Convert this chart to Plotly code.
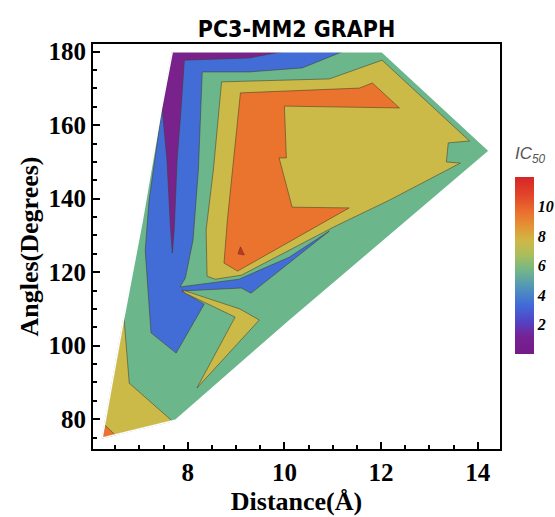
import plotly.graph_objects as go

# IC50 contour bands over distance (Å) / angle (degrees)
levels = [2, 4, 6, 8, 10]
ic50_min, ic50_max = 0.0, 12.0

# convex hull of the sampled region (IC50 4-6 band fills the rest)
hull_x = [7.68, 12.02, 14.24, 10.10, 7.76, 6.23, 6.68, 7.06, 7.45]
hull_y = [180.0, 180.0, 153.0, 106.7, 79.8, 74.9, 107.8, 134.2, 164.1]

# IC50 < 4
blue_x = [7.68, 11.20, 10.37, 9.27, 8.30, 8.22, 8.11, 7.95, 7.84, 9.06, 10.10, 10.93,
          9.31, 9.11, 7.88, 8.34, 7.76, 7.24, 7.12, 7.20, 7.47]
blue_y = [180.0, 180.0, 175.6, 174.5, 174.5, 147.8, 128.8, 118.4, 116.0, 118.1, 124.1, 131.2,
          114.3, 115.7, 114.9, 111.3, 98.0, 103.5, 126.0, 139.6, 164.7]

# IC50 < 2
purple_x = [7.68, 9.95, 9.27, 7.93, 7.86, 7.78, 7.72, 7.68, 7.64, 7.57, 7.47]
purple_y = [180.0, 180.0, 178.3, 177.7, 164.1, 150.5, 131.5, 125.2, 132.8, 150.5, 164.7]

# IC50 >= 6
yellow_x = [8.70, 10.93, 12.02, 13.83, 13.39, 13.35, 13.64, 12.17, 11.05, 10.14, 9.11,
            8.57, 8.40, 8.38, 8.53]
yellow_y = [171.8, 172.6, 177.7, 155.7, 155.2, 150.0, 149.7, 139.6, 132.5, 126.3, 119.2,
            118.1, 118.9, 131.5, 147.8]
yellow_low_x = [6.68, 6.79, 7.68, 6.23]
yellow_low_y = [107.8, 89.8, 79.5, 74.9]
yellow_spike_x = [7.88, 9.08, 9.48, 8.19, 8.98, 7.95]
yellow_spike_y = [115.2, 110.0, 107.0, 88.5, 107.8, 114.3]

# IC50 >= 8
orange_x = [9.09, 11.55, 11.82, 12.38, 10.00, 10.04, 9.89, 10.16, 11.34, 9.03, 8.75, 8.82]
orange_y = [168.8, 170.1, 171.5, 164.7, 165.2, 151.1, 151.1, 137.7, 137.5, 120.3, 122.5, 134.2]
orange_low_x = [6.23, 6.29, 6.50]
orange_low_y = [74.9, 78.4, 75.7]

# IC50 >= 10
red_x = [9.09, 9.17, 9.04]
red_y = [126.9, 124.7, 125.0]

x_ticks = [8, 10, 12, 14]
y_ticks = [80, 100, 120, 140, 160, 180]

band_colors = {
    "purple": "rgb(122,34,140)",
    "blue": "rgb(66,108,214)",
    "green": "rgb(108,182,140)",
    "yellow": "rgb(203,186,72)",
    "orange": "rgb(234,115,46)",
    "red": "rgb(214,44,40)",
}
contour_line = "rgba(70,60,40,0.55)"

rainbow = [
    [0.00, "rgb(118,26,138)"],
    [0.10, "rgb(118,34,148)"],
    [0.18, "rgb(84,66,196)"],
    [0.28, "rgb(64,108,216)"],
    [0.38, "rgb(82,150,184)"],
    [0.47, "rgb(112,182,138)"],
    [0.56, "rgb(170,190,92)"],
    [0.64, "rgb(206,184,70)"],
    [0.72, "rgb(228,148,54)"],
    [0.80, "rgb(234,112,46)"],
    [0.90, "rgb(226,68,42)"],
    [1.00, "rgb(214,38,40)"],
]

W, H = 555, 517
ml, mr, mt, mb = 93, 55, 44, 68
pw, ph = W - ml - mr, H - mt - mb

fig = go.Figure()


def band(xs, ys, color, outline=True):
    fig.add_trace(go.Scatter(
        x=xs + xs[:1], y=ys + ys[:1], mode="lines", fill="toself",
        fillcolor=color,
        line=dict(color=contour_line if outline else color, width=1 if outline else 0.5),
        hoverinfo="skip", showlegend=False))


band(hull_x, hull_y, band_colors["green"], outline=False)
band(blue_x, blue_y, band_colors["blue"])
band(purple_x, purple_y, band_colors["purple"])
band(yellow_x, yellow_y, band_colors["yellow"])
band(yellow_low_x, yellow_low_y, band_colors["yellow"])
band(yellow_spike_x, yellow_spike_y, band_colors["yellow"])
band(orange_x, orange_y, band_colors["orange"])
band(orange_low_x, orange_low_y, band_colors["orange"])
band(red_x, red_y, band_colors["red"])

# clean hull border (no contour line along the outside edge)
fig.add_trace(go.Scatter(
    x=hull_x + hull_x[:1], y=hull_y + hull_y[:1], mode="lines",
    line=dict(color="white", width=1.6), hoverinfo="skip", showlegend=False))

# colour scale legend
cb_left_px, cb_thick, cb_len, cb_top_px = 515, 19, 177, 177
cb_x = (cb_left_px - ml) / pw
cb_yc = 1 - (cb_top_px + cb_len / 2 - mt) / ph
fig.add_trace(go.Scatter(
    x=[None], y=[None], mode="markers",
    marker=dict(color=[ic50_min, ic50_max], colorscale=rainbow, cmin=ic50_min, cmax=ic50_max,
                showscale=True,
                colorbar=dict(x=cb_x, xanchor="left", y=cb_yc, yanchor="middle",
                              thickness=cb_thick, thicknessmode="pixels",
                              len=cb_len, lenmode="pixels", outlinewidth=0,
                              xpad=0, ypad=0, ticks="", tickvals=levels,
                              tickfont=dict(family="Liberation Serif", size=16,
                                            color="black", weight="bold", style="italic"))),
    hoverinfo="skip", showlegend=False))

cb_len_p = cb_len / ph
for v in levels:
    yp = cb_yc - cb_len_p / 2 + (v - ic50_min) / (ic50_max - ic50_min) * cb_len_p
    fig.add_shape(type="line", xref="paper", yref="paper",
                  x0=cb_x, x1=cb_x + cb_thick / pw, y0=yp, y1=yp,
                  line=dict(color="rgba(60,50,40,0.6)", width=1))

fig.add_annotation(xref="paper", yref="paper", x=(530 - ml) / pw,
                   y=1 - (155 - mt) / ph, text="<i>IC</i><sub><i>50</i></sub>",
                   showarrow=False, xanchor="center", yanchor="middle",
                   font=dict(family="Liberation Sans", size=17, color="#555555"))

axis_font = dict(family="Liberation Serif", size=25, color="black", weight="bold")
title_font = dict(family="Liberation Serif", size=26, color="black", weight="bold")

fig.update_xaxes(range=[6.04, 14.46], tickvals=x_ticks, ticks="inside", ticklen=7,
                 tickwidth=2, tickcolor="black", showline=True, linewidth=2,
                 linecolor="black", mirror=True, showgrid=False, zeroline=False,
                 minor=dict(ticks="inside", ticklen=4, tickwidth=1.5, dtick=0.5,
                            tickcolor="black", showgrid=False),
                 tickfont=axis_font,
                 title=dict(text="Distance(Å)", font=title_font, standoff=7))
fig.update_yaxes(range=[71.9, 182.1], tickvals=y_ticks, ticks="inside", ticklen=7,
                 tickwidth=2, tickcolor="black", showline=True, linewidth=2,
                 linecolor="black", mirror=True, showgrid=False, zeroline=False,
                 minor=dict(ticks="inside", ticklen=4, tickwidth=1.5, dtick=5,
                            tickcolor="black", showgrid=False),
                 tickfont=axis_font,
                 title=dict(text="Angles(Degrees)", font=title_font, standoff=2))

fig.update_layout(
    width=W, height=H, margin=dict(l=ml, r=mr, t=mt, b=mb, autoexpand=False),
    plot_bgcolor="white", paper_bgcolor="white",
    title=dict(text="PC3-MM2 GRAPH", x=0.5, xref="paper", xanchor="center",
               y=1 - 29 / H, yref="container", yanchor="middle",
               font=dict(family="DejaVu Sans Condensed, Roboto, sans-serif", size=23,
                         color="black", weight="bold")),
)

fig.write_html("out.html")
